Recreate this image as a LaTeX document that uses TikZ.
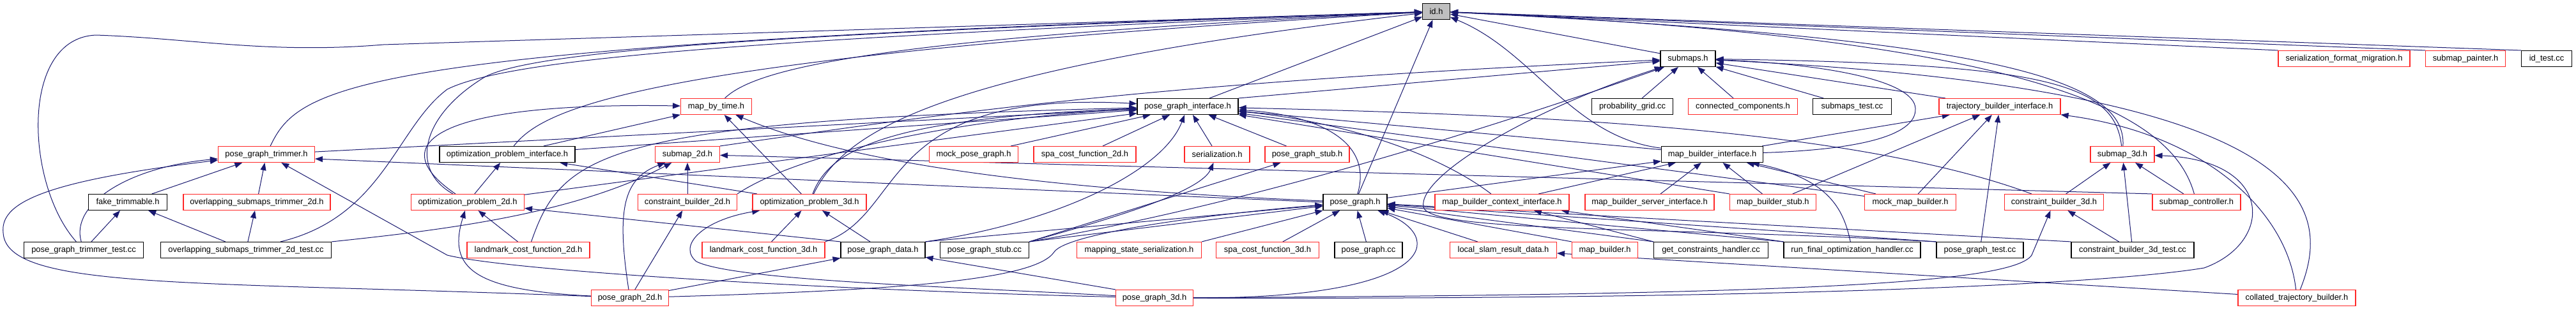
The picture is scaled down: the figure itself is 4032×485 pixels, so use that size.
\documentclass[tikz,border=0pt]{standalone}
\usepackage{fontspec}
\setmainfont{Liberation Sans}
\usepackage{tikz}
\usetikzlibrary{arrows.meta,backgrounds}
\definecolor{edgeblue}{RGB}{25,25,112}
\definecolor{boxred}{RGB}{255,40,40}
\definecolor{rootgrey}{RGB}{191,191,191}

\begin{document}
\begin{tikzpicture}[x=1pt,y=-1pt,
  blk/.style={draw=black, fill=white, line width=1.1pt, minimum height=25pt, inner sep=0pt, font=\fontsize{12.9}{15}\selectfont},
  rbox/.style={blk, draw=boxred},
  root/.style={blk, fill=rootgrey},
  inc/.style={draw=edgeblue, line width=1pt, -{Triangle[length=12pt,width=9pt]}}]
\useasboundingbox (0,0) rectangle (4032,485);

\node[root, minimum width=43pt] (idh) at (2248,18) {id.h};

\node[blk, minimum width=86pt] (submaps) at (2642,92) {submaps.h};
\node[rbox, minimum width=206pt] (serfmt) at (3669,92) {serialization\_format\_migration.h};
\node[rbox, minimum width=125pt] (painter) at (3859,92) {submap\_painter.h};
\node[blk, minimum width=79pt] (idtest) at (3986,92) {id\_test.cc};

\node[rbox, minimum width=111pt] (mbt) at (1121,167) {map\_by\_time.h};
\node[blk, minimum width=158pt] (pgi) at (1859,167) {pose\_graph\_interface.h};
\node[blk, minimum width=127pt] (probgrid) at (2555,167) {probability\_grid.cc};
\node[rbox, minimum width=171pt] (conncomp) at (2728,167) {connected\_components.h};
\node[blk, minimum width=123pt] (submapstest) at (2899,167) {submaps\_test.cc};
\node[rbox, minimum width=190pt] (tbi) at (3130,167) {trajectory\_builder\_interface.h};

\node[rbox, minimum width=151pt] (pgt) at (417,242) {pose\_graph\_trimmer.h};
\node[blk, minimum width=212pt] (opi) at (794,242) {optimization\_problem\_interface.h};
\node[rbox, minimum width=101pt] (sm2d) at (1076,242) {submap\_2d.h};
\node[rbox, minimum width=139pt] (mockpg) at (1524,242) {mock\_pose\_graph.h};
\node[rbox, minimum width=160pt] (spa2d) at (1698,242) {spa\_cost\_function\_2d.h};
\node[rbox, minimum width=102pt] (serial) at (1905,242) {serialization.h};
\node[rbox, minimum width=132pt] (pgstubh) at (2046,242) {pose\_graph\_stub.h};
\node[blk, minimum width=159pt] (mbi) at (2680,242) {map\_builder\_interface.h};
\node[rbox, minimum width=100pt] (sm3d) at (3322,242) {submap\_3d.h};

\node[blk, minimum width=123pt] (fake) at (200,317) {fake\_trimmable.h};
\node[rbox, minimum width=230pt] (ost2d) at (402,317) {overlapping\_submaps\_trimmer\_2d.h};
\node[rbox, minimum width=177pt] (op2d) at (732,317) {optimization\_problem\_2d.h};
\node[rbox, minimum width=155pt] (cb2d) at (1076,317) {constraint\_builder\_2d.h};
\node[rbox, minimum width=178pt] (op3d) at (1267,317) {optimization\_problem\_3d.h};
\node[blk, minimum width=100pt] (pgh) at (2121,317) {pose\_graph.h};
\node[rbox, minimum width=210pt] (mbci) at (2351,317) {map\_builder\_context\_interface.h};
\node[rbox, minimum width=202pt] (mbsi) at (2582,317) {map\_builder\_server\_interface.h};
\node[rbox, minimum width=135pt] (mbstub) at (2775,317) {map\_builder\_stub.h};
\node[rbox, minimum width=143pt] (mockmb) at (2990,317) {mock\_map\_builder.h};
\node[rbox, minimum width=155pt] (cb3d) at (3215,317) {constraint\_builder\_3d.h};
\node[rbox, minimum width=138pt] (smctrl) at (3438,317) {submap\_controller.h};

\node[blk, minimum width=187pt] (pgttest) at (131,392) {pose\_graph\_trimmer\_test.cc};
\node[blk, minimum width=267pt] (osttest) at (385,392) {overlapping\_submaps\_trimmer\_2d\_test.cc};
\node[rbox, minimum width=192pt] (lcf2d) at (827,392) {landmark\_cost\_function\_2d.h};
\node[rbox, minimum width=192pt] (lcf3d) at (1195,392) {landmark\_cost\_function\_3d.h};
\node[blk, minimum width=132pt] (pgdata) at (1382,392) {pose\_graph\_data.h};
\node[blk, minimum width=139pt] (pgstubcc) at (1541,392) {pose\_graph\_stub.cc};
\node[rbox, minimum width=195pt] (mss) at (1783,392) {mapping\_state\_serialization.h};
\node[rbox, minimum width=161pt] (spa3d) at (1984,392) {spa\_cost\_function\_3d.h};
\node[blk, minimum width=106pt] (pgcc) at (2142,392) {pose\_graph.cc};
\node[rbox, minimum width=167pt] (lsrd) at (2353,392) {local\_slam\_result\_data.h};
\node[rbox, minimum width=103pt] (mbh) at (2512,392) {map\_builder.h};
\node[blk, minimum width=179pt] (gch) at (2678,392) {get\_constraints\_handler.cc};
\node[blk, minimum width=214pt] (rfo) at (2899,392) {run\_final\_optimization\_handler.cc};
\node[blk, minimum width=136pt] (pgtest) at (3099,392) {pose\_graph\_test.cc};
\node[blk, minimum width=192pt] (cb3dtest) at (3338,392) {constraint\_builder\_3d\_test.cc};

\node[rbox, minimum width=121pt] (pg2d) at (986,467) {pose\_graph\_2d.h};
\node[rbox, minimum width=121pt] (pg3d) at (1807,467) {pose\_graph\_3d.h};
\node[rbox, minimum width=184pt] (ctb) at (3595,467) {collated\_trajectory\_builder.h};

\begin{scope}[on background layer]
\fill[white] (0,0) rectangle (4032,485);
% id.h
\draw[inc] (submaps) -- (idh);
\draw[inc] (serfmt.north west) -- (idh);
\draw[inc] (painter.north west) -- (idh);
\draw[inc] (idtest.north west) -- (idh);
\draw[inc] (pgi) -- (idh);
\draw[inc] (pgh) -- (idh);
\draw[inc] (mbt) .. controls (1180,110) and (1350,60) .. (idh);
\draw[inc] (opi) .. controls (850,170) and (1000,90) .. (idh);
\draw[inc] (op3d) .. controls (1320,210) and (1450,110) .. (idh);
\draw[inc] (pgt) .. controls (470,130) and (560,70) .. (idh);
\draw[inc] (op2d) .. controls (640,265) and (660,180) .. (760,120) .. controls (850,75) and (1300,50) .. (idh);
\draw[inc] (osttest) .. controls (600,340) and (620,200) .. (700,140) .. controls (800,90) and (1200,60) .. (idh);
\draw[inc] (pgttest) .. controls (40,290) and (30,60) .. (150,55) .. controls (300,60) and (420,85) .. (600,70) -- (idh);
\draw[inc] (mbi) .. controls (2460,215) and (2400,80) .. (idh);
\draw[inc] (sm3d) .. controls (3330,120) and (3100,60) .. (idh);
\draw[inc] (smctrl) .. controls (3400,180) and (3200,60) .. (idh);
% submaps.h
\draw[inc] (probgrid) -- (submaps);
\draw[inc] (conncomp) -- (submaps);
\draw[inc] (submapstest) -- (submaps);
\draw[inc] (tbi) -- (submaps);
\draw[inc] (pgi.north east) -- (submaps);
\draw[inc] (sm2d.north east) .. controls (1500,175) and (1800,130) .. (submaps);
\draw[inc] (mbi) .. controls (2900,235) and (3000,215) .. (2998,170) .. controls (2996,125) and (2850,100) .. (submaps);
\draw[inc] (sm3d) .. controls (3310,130) and (3200,100) .. (submaps);
\draw[inc] (ctb) .. controls (3650,330) and (3640,140) .. (submaps);
\draw[inc] (pgstubcc.north east) .. controls (1900,330) and (2250,230) .. (submaps);
\draw[inc] (pgtest.north west) .. controls (2600,355) and (2240,365) .. (2228,325) .. controls (2218,275) and (2400,170) .. (submaps);
% pose_graph_interface.h
\draw[inc] (pgt) -- (pgi);
\draw[inc] (opi) -- (pgi);
\draw[inc] (op2d) -- (pgi);
\draw[inc] (op3d) .. controls (1300,230) and (1400,185) .. (pgi);
\draw[inc] (cb2d.north east) .. controls (1250,240) and (1500,185) .. (pgi);
\draw[inc] (lcf2d) .. controls (880,240) and (940,190) .. (pgi);
\draw[inc] (lcf3d.north east) .. controls (1420,335) and (1370,140) .. (pgi);
\draw[inc] (mockpg) -- (pgi);
\draw[inc] (spa2d) -- (pgi);
\draw[inc] (serial) -- (pgi);
\draw[inc] (pgstubh) -- (pgi);
\draw[inc] (pgdata.north east) .. controls (1650,350) and (1820,270) .. (pgi);
\draw[inc] (pgh) .. controls (2150,220) and (2060,180) .. (pgi);
\draw[inc] (mbci) .. controls (2250,240) and (2100,190) .. (pgi);
\draw[inc] (mbi) -- (pgi);
\draw[inc] (mbstub.north west) -- (pgi);
\draw[inc] (mockmb) -- (pgi);
\draw[inc] (cb3d) .. controls (2900,200) and (2400,180) .. (pgi);
% map_by_time.h
\draw[inc] (opi) -- (mbt);
\draw[inc] (op2d) .. controls (590,220) and (700,160) .. (mbt);
\draw[inc] (op3d) -- (mbt);
\draw[inc] (pgh) .. controls (1700,300) and (1350,265) .. (mbt);
% pose_graph_trimmer.h
\draw[inc] (fake) -- (pgt);
\draw[inc] (ost2d) -- (pgt);
\draw[inc] (pgttest) .. controls (110,320) and (200,262) .. (pgt);
\draw[inc] (pg2d) .. controls (300,440) and (10,455) .. (5,365) .. controls (0,320) and (60,285) .. (pgt);
\draw[inc] (pg3d) .. controls (1300,455) and (800,425) .. (700,400) -- (pgt);
\draw[inc] (pgh.west) -- ([yshift=-7pt]pgt.east);
% optimization problems
\draw[inc] (op2d) -- (opi);
\draw[inc] (op3d) -- (opi);
\draw[inc] (lcf2d) -- (op2d);
\draw[inc] (pg2d) .. controls (740,455) and (700,420) .. (op2d);
\draw[inc] (pgdata.north west) -- (op2d);
\draw[inc] (lcf3d) -- (op3d);
\draw[inc] (pgdata) -- (op3d);
\draw[inc] (pg3d) .. controls (1500,450) and (1150,440) .. (1090,410) .. controls (1060,385) and (1100,345) .. (op3d);
% submap_2d.h, constraint_builder_2d.h
\draw[inc] (cb2d) -- (sm2d);
\draw[inc] (osttest.north east) .. controls (700,360) and (900,335) .. (sm2d);
\draw[inc] (pg2d) .. controls (965,330) and (975,280) .. (sm2d);
\draw[inc] (smctrl.north west) -- (sm2d);
\draw[inc] (pg2d) -- (cb2d);
\draw[inc] (pgttest) -- (fake);
\draw[inc] (osttest) -- (fake);
\draw[inc] (osttest) -- (ost2d);
% pose_graph_data.h
\draw[inc] (pg2d) -- (pgdata);
\draw[inc] (pg3d.north west) -- (pgdata);
% pose_graph.h
\draw[inc] (pgdata.north east) -- (pgh);
\draw[inc] (pgstubcc.north east) -- (pgh);
\draw[inc] (mss.north east) -- (pgh);
\draw[inc] (spa3d) -- (pgh);
\draw[inc] (pgcc) -- (pgh);
\draw[inc] (lsrd) -- (pgh);
\draw[inc] (mbh.north west) -- (pgh);
\draw[inc] (gch.north west) -- (pgh);
\draw[inc] (rfo.north west) -- (pgh);
\draw[inc] (pgtest.north west) -- (pgh);
\draw[inc] (cb3dtest.north west) -- (pgh);
\draw[inc] (pg2d) .. controls (1400,455) and (1620,440) .. (1650,395) .. controls (1670,365) and (1900,335) .. (pgh);
\draw[inc] (pg3d) .. controls (2250,468) and (2265,370) .. (pgh);
\draw[inc] (pgstubcc.north east) -- (pgstubh);
\draw[inc] (pgstubcc.north east) .. controls (1750,340) and (1880,300) .. (serial);
% map_builder_interface.h
\draw[inc] (pgh) -- (mbi);
\draw[inc] (mbci) -- (mbi);
\draw[inc] (mbsi) -- (mbi);
\draw[inc] (mbstub) -- (mbi);
\draw[inc] (mockmb) -- (mbi);
\draw[inc] (rfo) .. controls (2885,325) and (2860,280) .. (mbi);
\draw[inc] (gch.north west) -- (mbci);
\draw[inc] (rfo.north west) -- (mbci);
\draw[inc] (ctb) -- (lsrd);
% trajectory_builder_interface.h
\draw[inc] (mbi) -- (tbi);
\draw[inc] (mbstub) -- (tbi);
\draw[inc] (mockmb) -- (tbi);
\draw[inc] (pgtest) -- (tbi);
\draw[inc] (ctb) .. controls (3580,330) and (3450,210) .. (tbi);
% submap_3d.h, constraint_builder_3d.h
\draw[inc] (cb3d) -- (sm3d);
\draw[inc] (cb3dtest) -- (sm3d);
\draw[inc] (smctrl) -- (sm3d);
\draw[inc] (pg3d) .. controls (2800,470) and (3300,445) .. (3450,420) .. controls (3560,380) and (3560,250) .. (sm3d);
\draw[inc] (cb3dtest) -- (cb3d);
\draw[inc] (pg3d) .. controls (2800,462) and (3150,445) .. (3180,400) -- (cb3d);
\end{scope}
\end{tikzpicture}
\end{document}
